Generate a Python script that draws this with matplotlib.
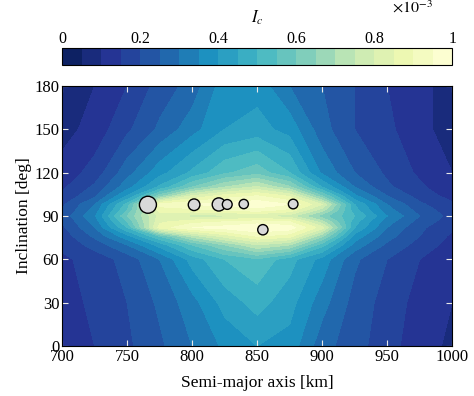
import numpy as np
import matplotlib
matplotlib.use("Agg")
import matplotlib.pyplot as plt

plt.rcParams['font.family'] = ['Liberation Serif', 'DejaVu Serif']
plt.rcParams['mathtext.fontset'] = 'stix'

# Grid (semi-major axis [km], inclination [deg]) and I_c values (x1e-3)
sma = [700, 725, 750, 775, 800, 825, 850, 875, 900, 925, 950, 975, 1000]
inc = [0, 30, 60, 70, 76, 82, 86, 90, 94, 98, 104, 110, 120, 150, 180]
ic_0   = [0.13, 0.15, 0.19, 0.24, 0.30, 0.36, 0.40, 0.38, 0.27, 0.22, 0.17, 0.12, 0.09]
ic_30  = [0.13, 0.16, 0.20, 0.26, 0.33, 0.42, 0.47, 0.42, 0.32, 0.23, 0.18, 0.13, 0.10]
ic_60  = [0.14, 0.17, 0.22, 0.30, 0.42, 0.50, 0.54, 0.47, 0.38, 0.26, 0.20, 0.15, 0.11]
ic_70  = [0.16, 0.22, 0.30, 0.42, 0.55, 0.65, 0.75, 0.70, 0.52, 0.33, 0.24, 0.18, 0.13]
ic_76  = [0.17, 0.26, 0.38, 0.55, 0.72, 0.82, 0.90, 0.87, 0.66, 0.38, 0.27, 0.20, 0.14]
ic_82  = [0.19, 0.30, 0.50, 0.87, 0.95, 0.97, 1.00, 0.98, 0.82, 0.45, 0.30, 0.21, 0.16]
ic_86  = [0.20, 0.32, 0.55, 0.84, 0.88, 0.90, 0.92, 0.90, 0.72, 0.47, 0.32, 0.23, 0.17]
ic_90  = [0.22, 0.34, 0.60, 0.82, 0.78, 0.78, 0.80, 0.77, 0.62, 0.50, 0.35, 0.25, 0.18]
ic_94  = [0.20, 0.32, 0.55, 0.87, 0.88, 0.90, 0.92, 0.88, 0.72, 0.47, 0.32, 0.23, 0.17]
ic_98  = [0.19, 0.30, 0.52, 0.92, 0.95, 0.97, 0.99, 0.95, 0.80, 0.45, 0.30, 0.21, 0.16]
ic_104 = [0.16, 0.24, 0.40, 0.62, 0.80, 0.87, 0.90, 0.84, 0.60, 0.36, 0.25, 0.18, 0.13]
ic_110 = [0.14, 0.21, 0.33, 0.46, 0.60, 0.70, 0.76, 0.66, 0.45, 0.30, 0.21, 0.16, 0.11]
ic_120 = [0.12, 0.17, 0.28, 0.38, 0.46, 0.54, 0.58, 0.50, 0.34, 0.25, 0.19, 0.14, 0.10]
ic_150 = [0.08, 0.12, 0.19, 0.26, 0.33, 0.40, 0.42, 0.38, 0.27, 0.20, 0.16, 0.12, 0.07]
ic_180 = [0.08, 0.10, 0.15, 0.22, 0.27, 0.38, 0.38, 0.30, 0.25, 0.20, 0.15, 0.12, 0.07]

# Satellites: semi-major axis, inclination, marker size
sat_a = [766, 801.5, 820.5, 827, 839.7, 877.7, 854.4]
sat_i = [97.8, 97.8, 98.0, 98.0, 98.3, 98.3, 80.5]
sat_s = [150, 70, 90, 50, 45, 48, 55]

Z = np.array([ic_0, ic_30, ic_60, ic_70, ic_76, ic_82, ic_86, ic_90, ic_94,
              ic_98, ic_104, ic_110, ic_120, ic_150, ic_180])
X, Y = np.meshgrid(sma, inc)

fig = plt.figure(figsize=(4.74, 3.96), dpi=100)
ax = fig.add_axes([0.131, 0.126, 0.823, 0.657])
cax = fig.add_axes([0.131, 0.836, 0.823, 0.043])

levels = np.linspace(0, 1, 21)
cf = ax.contourf(X, Y, Z, levels=levels, cmap='YlGnBu_r', vmin=0, vmax=1)
ax.scatter(sat_a, sat_i, s=sat_s, facecolor='#d9d9d9', edgecolor='black',
           linewidth=1.0, zorder=5)

ax.set_xlim(700, 1000)
ax.set_ylim(0, 180)
ax.set_xticks([700, 750, 800, 850, 900, 950, 1000])
ax.set_yticks([0, 30, 60, 90, 120, 150, 180])
ax.tick_params(direction='in', top=True, right=True, color='#e8e8e8',
               length=4, labelsize=12, pad=2)
ax.set_xlabel('Semi-major axis [km]', fontsize=12.5, labelpad=7)
ax.set_ylabel('Inclination [deg]', fontsize=12.5, labelpad=2)

cb = fig.colorbar(cf, cax=cax, orientation='horizontal', ticks=[0, 0.2, 0.4, 0.6, 0.8, 1])
cb.ax.xaxis.set_ticks_position('top')
cb.ax.xaxis.set_label_position('top')
cb.ax.set_xticklabels(['0', '0.2', '0.4', '0.6', '0.8', '1'])
cb.ax.tick_params(direction='in', length=0, labelsize=11.5, pad=1)
cb.set_label('$I_c$', fontsize=12, labelpad=6)
fig.text(0.827, 0.978, r'$\times 10^{-3}$', fontsize=11.5, ha='left', va='center')

fig.savefig('out.png', dpi=100)
